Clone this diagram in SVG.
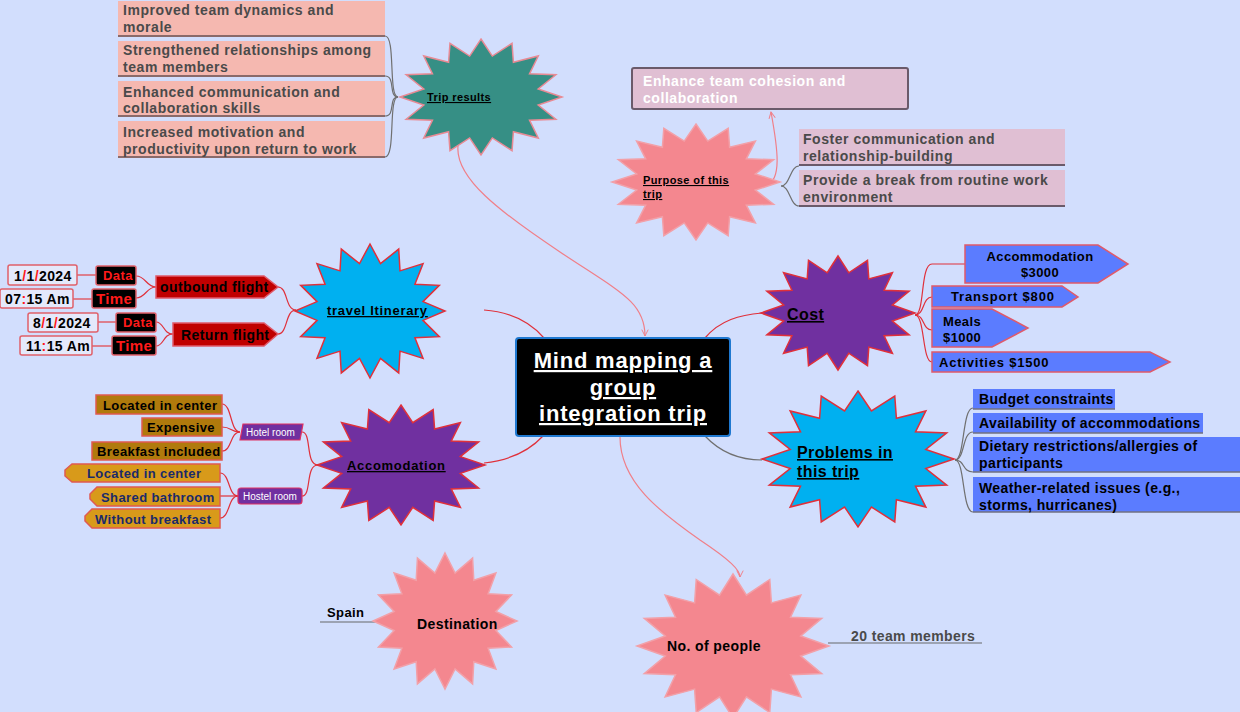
<svg xmlns="http://www.w3.org/2000/svg" width="1240" height="712" viewBox="0 0 1240 712">
<style>
text{font-family:"Liberation Sans",Arial,sans-serif;font-weight:bold;letter-spacing:0.4px}
.t14{font-size:14px;fill:#4a4a4a;letter-spacing:0.55px}
.ul{text-decoration:underline}
.sb{vector-effect:non-scaling-stroke;stroke-width:1.5}
.gray{fill:none;stroke:#707070;stroke-width:1.2}
.red{fill:none;stroke:#e0303a;stroke-width:1.2}
.pink{fill:none;stroke:#f07f88;stroke-width:1.2}
.salmon{fill:#f5b8b0}
.mauve{fill:#e0bfd3}
.blue{fill:#5b7cff}
.bl{stroke:#8a6a6a;stroke-width:2}
.dk{fill:#000;stroke:#e0606a;stroke-width:1.5}
.date{fill:#e4e9fb;stroke:#e0606a;stroke-width:1.5}
.cost{fill:#5b7cff;stroke:#e05a6a;stroke-width:1.5}
.brown{fill:#b07a0c;stroke:#e05a50;stroke-width:1.5}
.gold{fill:#d89a1a;stroke:#e05a50;stroke-width:1.5}
</style>
<defs>
<polygon id="star" class="sb" points="0,-100 14,-70.6 38.3,-92.4 40,-59.9 70.7,-70.7 59.9,-40 92.4,-38.3 70.6,-14 100,0 70.6,14 92.4,38.3 59.9,40 70.7,70.7 40,59.9 38.3,92.4 14,70.6 0,100 -14,70.6 -38.3,92.4 -40,59.9 -70.7,70.7 -59.9,40 -92.4,38.3 -70.6,14 -100,0 -70.6,-14 -92.4,-38.3 -59.9,-40 -70.7,-70.7 -40,-59.9 -38.3,-92.4 -14,-70.6"/>
<marker id="arr" viewBox="0 0 10 10" refX="9" refY="5" markerWidth="8" markerHeight="8" orient="auto" markerUnits="userSpaceOnUse">
<path d="M1,1 L9,5 L1,9" fill="none" stroke="#f07f88" stroke-width="1.2"/>
</marker>
</defs>
<rect x="0" y="0" width="1240" height="712" fill="#d2defd"/>

<g id="connectors">
<path class="pink" d="M458,146 C455,178 500,212 560,252 C620,292 645,302 645,336" marker-end="url(#arr)"/>
<path class="pink" d="M766,186 C782,180 778,150 771,112" marker-end="url(#arr)"/>
<path class="red" d="M484,310 C512,312 530,322 544,338"/>
<path class="red" d="M484,463 C512,460 530,450 543,436"/>
<path class="red" d="M705,338 C720,320 740,315 762,313"/>
<path class="gray" d="M705,436 C720,452 740,460 762,460"/>
<path class="pink" d="M620,437 C620,482 660,512 700,540 C730,560 740,570 740,577" marker-end="url(#arr)"/>
<path class="gray" d="M398,97 C388,97 396,36 385,36"/>
<path class="gray" d="M398,97 C388,97 396,76 385,76"/>
<path class="gray" d="M398,97 C388,97 396,116 385,116"/>
<path class="gray" d="M398,97 C388,97 396,157 385,157"/>
<path class="gray" d="M781,186 C790,186 790,166 799,166"/>
<path class="gray" d="M781,186 C790,186 790,206 799,206"/>
<path class="red" d="M296,310 C285,310 288,287 278,287"/>
<path class="red" d="M296,310 C285,310 288,334 278,334"/>
<path class="red" d="M156,287 C146,287 146,276 136,276"/>
<path class="red" d="M156,287 C146,287 146,298 136,298"/>
<path class="red" d="M173,334 C163,334 164,322 156,322"/>
<path class="red" d="M173,334 C163,334 164,346 156,346"/>
<path d="M77,275 H96 M73,299 H92 M98,322 H116 M92,346 H112" stroke="#e0606a" stroke-width="1.5" fill="none"/>
<path class="red" d="M915,315 C925,315 920,264 932,264 H965"/>
<path class="red" d="M915,315 C925,315 922,297 932,297"/>
<path class="red" d="M915,315 C925,315 922,330 932,330"/>
<path class="red" d="M915,315 C925,315 922,362 932,362"/>
<path class="gray" d="M955,460 C965,460 962,408 973,408"/>
<path class="gray" d="M955,460 C965,460 962,432 973,432"/>
<path class="gray" d="M955,460 C965,460 962,472 973,472"/>
<path class="gray" d="M955,460 C965,460 962,512 973,512"/>
<path class="red" d="M318,465 C305,465 312,432 302,432"/>
<path class="red" d="M318,465 C305,465 312,496 302,496"/>
<path class="red" d="M240,432 C230,432 232,404 222,404"/>
<path class="red" d="M240,432 C230,432 232,427 222,427"/>
<path class="red" d="M240,432 C230,432 232,451 222,451"/>
<path class="red" d="M238,496 C228,496 230,473 220,473"/>
<path class="red" d="M238,496 H220"/>
<path class="red" d="M238,496 C228,496 230,518 220,518"/>
<path d="M320,622 H388" stroke="#8a8f9a" stroke-width="1.5"/>
<path d="M828,643 H982" stroke="#8a8f9a" stroke-width="1.5"/>
</g>

<g id="center">
<rect x="516" y="338" width="214" height="98" rx="3" fill="#000" stroke="#1f78d0" stroke-width="2"/>
<text x="623" y="368" font-size="22" fill="#fff" text-anchor="middle" class="ul" style="letter-spacing:0.8px">Mind mapping a</text>
<text x="623" y="395" font-size="22" fill="#fff" text-anchor="middle" class="ul" style="letter-spacing:0.8px">group</text>
<text x="623" y="421" font-size="22" fill="#fff" text-anchor="middle" class="ul" style="letter-spacing:0.8px">integration trip</text>
</g>

<g id="trip-results">
<use href="#star" transform="translate(481,97) scale(0.81,0.58)" fill="#368f85" stroke="#e88a94"/>
<text x="427" y="101" font-size="11" fill="#000" class="ul">Trip results</text>
</g>
<g id="tr-1"><rect class="salmon" x="118" y="1" width="267" height="35"/><path class="bl" d="M118,36 H385"/>
<text class="t14" x="123" y="15">Improved team dynamics and</text><text class="t14" x="123" y="32">morale</text></g>
<g id="tr-2"><rect class="salmon" x="118" y="41" width="267" height="35"/><path class="bl" d="M118,76 H385"/>
<text class="t14" x="123" y="55">Strengthened relationships among</text><text class="t14" x="123" y="72">team members</text></g>
<g id="tr-3"><rect class="salmon" x="118" y="81" width="267" height="35"/><path class="bl" d="M118,116 H385"/>
<text class="t14" x="123" y="97">Enhanced communication and</text><text class="t14" x="123" y="113">collaboration skills</text></g>
<g id="tr-4"><rect class="salmon" x="118" y="121" width="267" height="36"/><path class="bl" d="M118,157 H385"/>
<text class="t14" x="123" y="137">Increased motivation and</text><text class="t14" x="123" y="154">productivity upon return to work</text></g>

<g id="purpose">
<use href="#star" transform="translate(696,182) scale(0.84,0.58)" fill="#f4878f" stroke="#f2a0a8"/>
<text x="643" y="184" font-size="11" fill="#000" class="ul">Purpose of this</text>
<text x="643" y="198" font-size="11" fill="#000" class="ul">trip</text>
</g>
<g id="p-1"><rect class="mauve" x="632" y="68" width="276" height="41" rx="2" stroke="#6a5a6a" stroke-width="2"/>
<text x="643" y="86" font-size="14" fill="#fff" style="letter-spacing:0.55px">Enhance team cohesion and</text><text x="643" y="103" font-size="14" fill="#fff" style="letter-spacing:0.55px">collaboration</text></g>
<g id="p-2"><rect class="mauve" x="799" y="129" width="266" height="36"/><path d="M799,165 H1065" stroke="#6a5a6a" stroke-width="2"/>
<text class="t14" x="803" y="144">Foster communication and</text><text class="t14" x="803" y="161">relationship-building</text></g>
<g id="p-3"><rect class="mauve" x="799" y="170" width="266" height="36"/><path d="M799,206 H1065" stroke="#6a5a6a" stroke-width="2"/>
<text class="t14" x="803" y="185">Provide a break from routine work</text><text class="t14" x="803" y="202">environment</text></g>

<g id="itinerary">
<use href="#star" transform="translate(370,311) scale(0.75,0.67)" fill="#00b0f0" stroke="#e0303a"/>
<text x="327" y="315" font-size="13" fill="#000" class="ul" style="letter-spacing:0.7px"> travel Itinerary</text>
</g>
<g id="outbound"><polygon points="156,276 264,276 278,287 264,298 156,298" fill="#c00000" stroke="#e05a6a" stroke-width="1.5"/>
<text x="160" y="292" font-size="14" fill="#000">outbound flight</text></g>
<g id="return"><polygon points="173,323 264,323 278,334 264,346 173,346" fill="#c00000" stroke="#e05a6a" stroke-width="1.5"/>
<text x="181" y="340" font-size="14" fill="#000">Return flight</text></g>
<g id="o-data"><rect class="dk" x="96" y="266" width="40" height="19" rx="2"/><text x="103" y="280" font-size="13" fill="#ff1a1a">Data</text></g>
<g id="o-time"><rect class="dk" x="92" y="289" width="44" height="19" rx="2"/><text x="96" y="304" font-size="15" fill="#ff1a1a">Time</text></g>
<g id="r-data"><rect class="dk" x="116" y="313" width="40" height="19" rx="2"/><text x="123" y="327" font-size="13" fill="#ff1a1a">Data</text></g>
<g id="r-time"><rect class="dk" x="112" y="336" width="44" height="19" rx="2"/><text x="116" y="351" font-size="15" fill="#ff1a1a">Time</text></g>
<g id="o-date"><rect class="date" x="8" y="265" width="69" height="20" rx="2"/><text x="14" y="281" font-size="14" fill="#000">1<tspan fill="#ff1a1a">/</tspan>1<tspan fill="#ff1a1a">/</tspan>2024</text></g>
<g id="o-hour"><rect class="date" x="0" y="289" width="73" height="19" rx="2"/><text x="5" y="304" font-size="14" fill="#000">07<tspan fill="#ff1a1a">:</tspan>15 Am</text></g>
<g id="r-date"><rect class="date" x="28" y="313" width="70" height="19" rx="2"/><text x="33" y="328" font-size="14" fill="#000">8<tspan fill="#ff1a1a">/</tspan>1<tspan fill="#ff1a1a">/</tspan>2024</text></g>
<g id="r-hour"><rect class="date" x="20" y="336" width="72" height="19" rx="2"/><text x="26" y="351" font-size="14" fill="#000">11<tspan fill="#ff1a1a">:</tspan>15 Am</text></g>

<g id="cost">
<use href="#star" transform="translate(838,313) scale(0.77,0.57)" fill="#7030a0" stroke="#e0303a"/>
<text x="787" y="320" font-size="16" fill="#000" class="ul">Cost</text>
</g>
<g id="c-1"><polygon class="cost" points="965,245 1098,245 1128,264 1098,283 965,283"/>
<text x="1040" y="261" font-size="13" fill="#000" text-anchor="middle">Accommodation</text><text x="1040" y="277" font-size="13" fill="#000" text-anchor="middle">$3000</text></g>
<g id="c-2"><polygon class="cost" points="932,286 1062,286 1078,297 1062,307 932,307"/><text x="951" y="301" font-size="13" fill="#000" style="letter-spacing:0.8px">Transport $800</text></g>
<g id="c-3"><polygon class="cost" points="932,309 992,309 1028,328 992,347 932,347"/><text x="943" y="326" font-size="13" fill="#000">Meals</text><text x="943" y="342" font-size="13" fill="#000">$1000</text></g>
<g id="c-4"><polygon class="cost" points="932,352 1150,352 1170,362 1150,372 932,372"/><text x="939" y="367" font-size="13" fill="#000" style="letter-spacing:0.8px">Activities $1500</text></g>

<g id="problems">
<use href="#star" transform="translate(858,459) scale(0.96,0.68)" fill="#00b0f0" stroke="#e0303a"/>
<text x="797" y="458" font-size="16" fill="#000" class="ul">Problems in</text>
<text x="797" y="477" font-size="16" fill="#000" class="ul">this trip</text>
</g>
<g id="pr-1"><rect class="blue" x="973" y="389" width="142" height="20"/><path d="M973,409 H1115" stroke="#707080" stroke-width="1.5"/><text x="979" y="404" font-size="14" fill="#000">Budget constraints</text></g>
<g id="pr-2"><rect class="blue" x="973" y="413" width="230" height="20"/><path d="M973,433 H1203" stroke="#707080" stroke-width="1.5"/><text x="979" y="428" font-size="14" fill="#000">Availability of accommodations</text></g>
<g id="pr-3"><rect class="blue" x="973" y="437" width="267" height="35"/><path d="M973,472 H1240" stroke="#707080" stroke-width="1.5"/><text x="979" y="451" font-size="14" fill="#000">Dietary restrictions/allergies of</text><text x="979" y="468" font-size="14" fill="#000">participants</text></g>
<g id="pr-4"><rect class="blue" x="973" y="477" width="267" height="35"/><path d="M973,512 H1240" stroke="#707080" stroke-width="1.5"/><text x="979" y="493" font-size="14" fill="#000">Weather-related issues (e.g.,</text><text x="979" y="510" font-size="14" fill="#000">storms, hurricanes)</text></g>

<g id="accomodation">
<use href="#star" transform="translate(401,465) scale(0.84,0.6)" fill="#7030a0" stroke="#e0303a"/>
<text x="347" y="470" font-size="13" fill="#000" class="ul" style="letter-spacing:0.7px">Accomodation</text>
</g>
<g id="hotel"><polygon points="243,424 303,424 300,440 240,440" fill="#7030a0" stroke="#e03060" stroke-width="1.2"/><text x="246" y="436" font-size="10" style="font-weight:normal;letter-spacing:0" fill="#fff">Hotel room</text></g>
<g id="hostel"><rect x="238" y="488" width="64" height="16" rx="3" fill="#7030a0" stroke="#e03060" stroke-width="1.2"/><text x="243" y="500" font-size="10" style="font-weight:normal;letter-spacing:0" fill="#fff">Hostel room</text></g>
<g id="h-1"><rect class="brown" x="96" y="395" width="126" height="19"/><text x="103" y="410" font-size="13" fill="#000">Located in center</text></g>
<g id="h-2"><rect class="brown" x="142" y="418" width="80" height="18"/><text x="147" y="432" font-size="13" fill="#000">Expensive</text></g>
<g id="h-3"><rect class="brown" x="92" y="442" width="130" height="18"/><text x="97" y="456" font-size="13" fill="#000">Breakfast included</text></g>
<g id="s-1"><path class="gold" d="M72,464 H220 V482 H72 L65,476 V470 Z"/><text x="87" y="478" font-size="13" fill="#1a2a6a">Located in center</text></g>
<g id="s-2"><path class="gold" d="M97,487 H220 V506 H97 L90,499 V494 Z"/><text x="101" y="502" font-size="13" fill="#1a2a6a">Shared bathroom</text></g>
<g id="s-3"><path class="gold" d="M92,509 H220 V528 H92 L85,521 V516 Z"/><text x="95" y="524" font-size="13" fill="#1a2a6a">Without breakfast</text></g>

<g id="destination">
<use href="#star" transform="translate(445,621) scale(0.72,0.68)" fill="#f4878f" stroke="#f2a0a8"/>
<text x="417" y="629" font-size="14" fill="#000">Destination</text>
</g>
<g id="spain"><text x="327" y="617" font-size="13" fill="#000">Spain</text></g>

<g id="people">
<use href="#star" transform="translate(733,646) scale(0.96,0.72)" fill="#f4878f" stroke="#f2a0a8"/>
<text x="667" y="651" font-size="14" fill="#000">No. of people</text>
</g>
<g id="team"><text x="851" y="641" font-size="14" fill="#4a4a4a">20 team members</text></g>
</svg>
